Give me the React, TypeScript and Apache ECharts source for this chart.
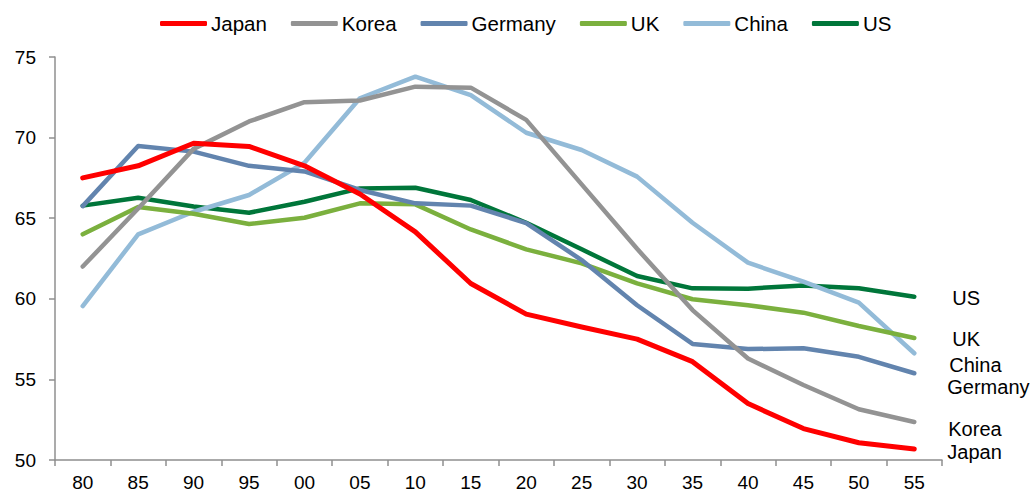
import React, { useEffect, useRef } from "react";
import * as echarts from "echarts";

const categories = ["80", "85", "90", "95", "00", "05", "10", "15", "20", "25", "30", "35", "40", "45", "50", "55"];

const japan = [67.5, 68.25, 69.65, 69.45, 68.25, 66.5, 64.15, 60.95, 59.05, 58.25, 57.5, 56.1, 53.5, 51.95, 51.07, 50.68];
const korea = [62.0, 65.6, 69.3, 71.0, 72.2, 72.3, 73.16, 73.1, 71.1, 67.1, 63.1, 59.3, 56.3, 54.65, 53.15, 52.36];
const germany = [65.75, 69.48, 69.13, 68.25, 67.9, 66.75, 65.92, 65.78, 64.7, 62.4, 59.6, 57.2, 56.88, 56.93, 56.4, 55.38];
const uk = [64.0, 65.7, 65.28, 64.64, 65.03, 65.92, 65.86, 64.3, 63.07, 62.2, 60.96, 59.97, 59.6, 59.14, 58.31, 57.57];
const china = [59.55, 64.0, 65.4, 66.44, 68.44, 72.44, 73.78, 72.64, 70.3, 69.23, 67.58, 64.72, 62.24, 61.06, 59.76, 56.62];
const us = [65.78, 66.27, 65.72, 65.34, 66.02, 66.85, 66.89, 66.13, 64.72, 63.07, 61.41, 60.65, 60.63, 60.82, 60.65, 60.13];

const seriesNames = ["Japan", "Korea", "Germany", "UK", "China", "US"];
const seriesData = [japan, korea, germany, uk, china, us];
const seriesColors = ["#ff0000", "#939393", "#6284ae", "#7bb03e", "#93bbd8", "#00763a"];
const endOffsets: [number, number][] = [[33, 3], [34, 7], [33, 13.5], [38, 1], [35, 11.5], [38, 1]];

const FONT = "'Liberation Sans', Arial, sans-serif";

export default function App() {
  const ref = useRef<HTMLDivElement>(null);
  useEffect(() => {
    document.body.style.margin = "0";
    if (!ref.current) return;
    const chart = echarts.init(ref.current, undefined, { renderer: "svg" });
    chart.setOption({
      animation: false,
      backgroundColor: "#ffffff",
      textStyle: { fontFamily: FONT },
      legend: {
        top: 8,
        left: 155,
        itemWidth: 47,
        itemHeight: 5,
        itemGap: 24,
        icon: "roundRect",
        textStyle: { fontSize: 20.5, color: "#000", fontFamily: FONT, padding: [0, 0, 0, -1] },
        data: seriesNames,
      },
      grid: { left: 55, right: 92, top: 57, bottom: 33, containLabel: false, outerBoundsMode: "none" },
      xAxis: {
        type: "category",
        data: categories,
        boundaryGap: true,
        axisLine: { lineStyle: { color: "#8f8f8f", width: 1.5 } },
        axisTick: { show: true, length: 6, lineStyle: { color: "#8f8f8f", width: 1.5 } },
        axisLabel: { fontSize: 19, lineHeight: 19, color: "#000", margin: 13, fontFamily: FONT },
        splitLine: { show: false },
      },
      yAxis: {
        type: "value",
        min: 50,
        max: 75,
        interval: 5,
        axisLine: { show: true, lineStyle: { color: "#8f8f8f", width: 1.5 } },
        axisTick: { show: true, length: 6, lineStyle: { color: "#8f8f8f", width: 1.5 } },
        axisLabel: { fontSize: 19, color: "#000", margin: 19, fontFamily: FONT },
        splitLine: { show: false },
      },
      series: seriesNames.map((name, i) => ({
        name,
        type: "line",
        data: seriesData[i],
        symbol: "none",
        showSymbol: false,
        color: seriesColors[i],
        lineStyle: { width: i === 0 ? 5 : 4.5, color: seriesColors[i], cap: "round", join: "round" },
        z: 10 - i,
        endLabel: {
          show: true,
          formatter: name,
          position: "right",
          distance: 0,
          offset: endOffsets[i],
          fontSize: 20,
          lineHeight: 15,
          color: "#000",
          fontFamily: FONT,
        },
      })),
    });
    return () => chart.dispose();
  }, []);
  return <div ref={ref} style={{ width: 1034, height: 493 }} />;
}
